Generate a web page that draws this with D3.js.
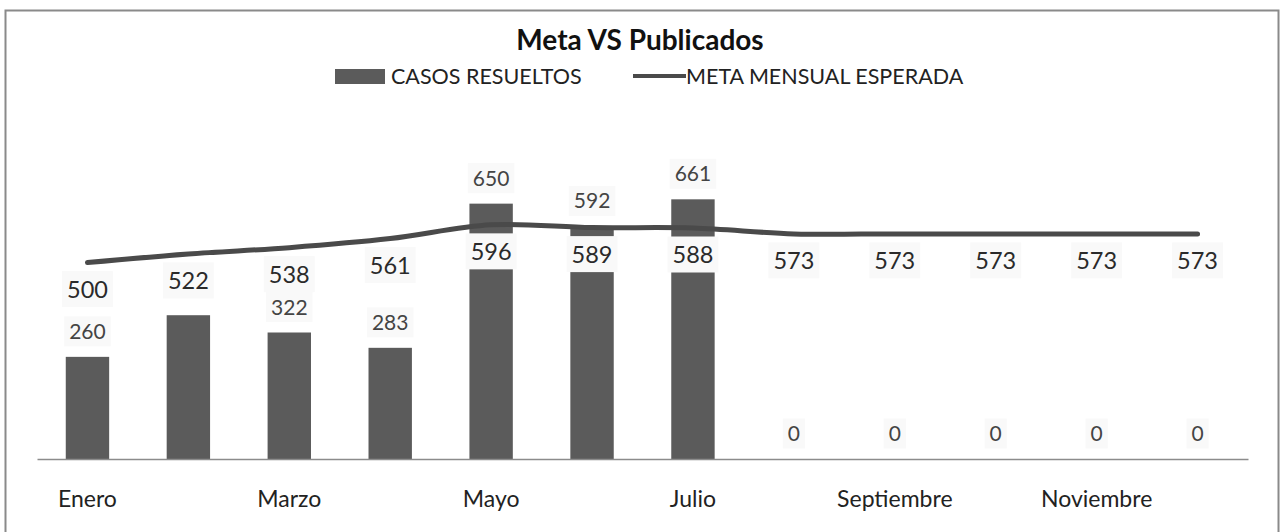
<!DOCTYPE html>
<html>
<head>
<meta charset="utf-8">
<script src="https://cdn.jsdelivr.net/npm/d3@7"></script>
<style>
  body { margin: 0; background: #fff; }
  svg { display: block; font-family: Lato, "Open Sans", sans-serif; }
</style>
</head>
<body>
<div id="chart"></div>
<script>
// data
const months = ["Enero", "Febrero", "Marzo", "Abril", "Mayo", "Junio", "Julio",
                "Agosto", "Septiembre", "Octubre", "Noviembre", "Diciembre"];
const casosResueltos = [260, 366, 322, 283, 650, 592, 661, 0, 0, 0, 0, 0];
const metaMensual = [500, 522, 538, 561, 596, 589, 588, 573, 573, 573, 573, 573];
const shownTicks = ["Enero", "Marzo", "Mayo", "Julio", "Septiembre", "Noviembre"];

const width = 1281, height = 532;
const barColor = "#5b5b5b", lineColor = "#4a4a4a", boxFill = "#f9f9f9";

const svg = d3.select("#chart").append("svg")
    .attr("width", width)
    .attr("height", height);

// chart frame
svg.append("rect")
    .attr("x", 5.5).attr("y", 10.5)
    .attr("width", 1273).attr("height", 540)
    .attr("fill", "none")
    .attr("stroke", "#8a8a8a")
    .attr("stroke-width", 2);

const x = d3.scaleBand().domain(months).range([37, 1248])
    .paddingInner(0.57).paddingOuter(0.285);
const y = d3.scaleLinear().domain([0, 700]).range([459, 184]);
const cx = m => x(m) + x.bandwidth() / 2;

// title
svg.append("text")
    .attr("x", 640).attr("y", 50)
    .attr("text-anchor", "middle")
    .attr("font-weight", "bold")
    .attr("font-size", 28)
    .attr("fill", "#111")
    .text("Meta VS Publicados");

// legend
const legend = svg.append("g").attr("font-size", 21.5).attr("fill", "#222");
legend.append("rect").attr("x", 335).attr("y", 69).attr("width", 50).attr("height", 15).attr("fill", barColor);
legend.append("text").attr("x", 391).attr("y", 84).text("CASOS RESUELTOS");
legend.append("line").attr("x1", 633).attr("x2", 686).attr("y1", 76).attr("y2", 76)
    .attr("stroke", lineColor).attr("stroke-width", 4);
legend.append("text").attr("x", 686).attr("y", 84).text("META MENSUAL ESPERADA");

// bars
svg.append("g").selectAll("rect")
    .data(months)
    .join("rect")
    .attr("x", m => x(m))
    .attr("y", (m, i) => y(casosResueltos[i]))
    .attr("width", x.bandwidth())
    .attr("height", (m, i) => y(0) - y(casosResueltos[i]))
    .attr("fill", barColor);

// baseline + month labels
svg.append("g")
    .attr("transform", `translate(0,${y(0)})`)
    .call(d3.axisBottom(x).tickValues(shownTicks).tickSize(0).tickPadding(32))
    .call(g => g.select(".domain").attr("stroke", "#8c8c8c").attr("stroke-width", 1.5))
    .call(g => g.selectAll(".tick text")
        .attr("font-family", "Lato, 'Open Sans', sans-serif")
        .attr("font-size", 23)
        .attr("fill", "#222"));

const barLabelY = i => y(casosResueltos[i]) - 25.5;
const lineLabelY = i => y(metaMensual[i]) + 26.5;
const lineBoxH = 36, barBoxH = 30;

// a bar label is hidden when the line label box of the same month sits on it
const barIdx = d3.range(months.length)
    .filter(i => Math.abs(barLabelY(i) - lineLabelY(i)) > (lineBoxH + barBoxH) / 2 - 4);

// label with a faint box behind it
function boxedLabels(g, idx, values, yPos, size, color, boxH) {
    const item = g.selectAll("g").data(idx).join("g")
        .attr("transform", i => `translate(${cx(months[i])},${yPos(i)})`);
    item.append("rect")
        .attr("fill", boxFill);
    item.append("text")
        .attr("text-anchor", "middle")
        .attr("dy", "0.36em")
        .attr("font-size", size)
        .attr("fill", color)
        .text(i => values[i]);
    item.each(function() {
        const w = d3.select(this).select("text").node().getBBox().width + 10;
        d3.select(this).select("rect")
            .attr("x", -w / 2).attr("y", -boxH / 2)
            .attr("width", w).attr("height", boxH);
    });
}

// bar labels
svg.append("g").call(boxedLabels, barIdx, casosResueltos, barLabelY, 21, "#444", barBoxH);

// line labels
svg.append("g").call(boxedLabels, d3.range(months.length), metaMensual, lineLabelY, 23.5, "#2a2a2a", lineBoxH);

// meta line
const line = d3.line()
    .curve(d3.curveCatmullRom)
    .x((d, i) => cx(months[i]))
    .y(d => y(d));

svg.append("path")
    .datum(metaMensual)
    .attr("fill", "none")
    .attr("stroke", lineColor)
    .attr("stroke-width", 5)
    .attr("stroke-linecap", "round")
    .attr("stroke-linejoin", "round")
    .attr("d", line);
</script>
</body>
</html>
